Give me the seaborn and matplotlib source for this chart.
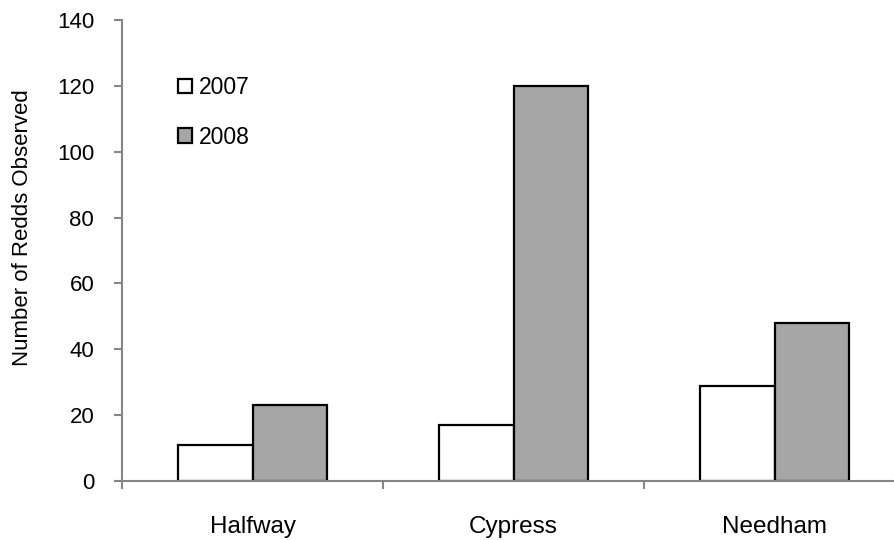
import pandas as pd
import matplotlib
matplotlib.use("Agg")
import matplotlib.pyplot as plt
import seaborn as sns

sites = ["Halfway", "Cypress", "Needham"]
years = ["2007", "2008"]
redds_2007 = [11, 17, 29]
redds_2008 = [23, 120, 48]

df = pd.DataFrame({
    "Site": sites * 2,
    "Year": [years[0]] * 3 + [years[1]] * 3,
    "Redds": redds_2007 + redds_2008,
})

sns.set_style("white")
plt.rcParams['font.family'] = ['Liberation Sans', 'DejaVu Sans']
plt.rcParams['text.color'] = 'black'
plt.rcParams['xtick.color'] = 'black'
plt.rcParams['ytick.color'] = 'black'
plt.rcParams['axes.labelcolor'] = 'black'

fig = plt.figure(figsize=(8.94, 5.40), dpi=100)
ax = fig.add_axes([122 / 894, 1 - 481 / 540, 783 / 894, 461 / 540])

sns.barplot(data=df, x="Site", y="Redds", hue="Year", order=sites, hue_order=years,
            palette={"2007": "white", "2008": "#a6a6a6"}, width=0.57,
            edgecolor="black", linewidth=1.6, ax=ax)

ax.set_xlim(-0.5, 2.5)
ax.set_ylim(0, 140)
ax.set_yticks(range(0, 141, 20))
ax.set_ylabel("Number of Redds Observed", fontsize=16, va="center")
ax.yaxis.set_label_coords(-0.1277, 0.549)
ax.set_xlabel("")

for s in ["top", "right"]:
    ax.spines[s].set_visible(False)
for s in ["left", "bottom"]:
    ax.spines[s].set_color("#868686")
    ax.spines[s].set_linewidth(1.5)

ax.set_xticks([-0.5, 0.5, 1.5, 2.5], minor=True)
ax.tick_params(axis="x", which="major", length=0, pad=25, labelsize=17.5)
ax.tick_params(axis="x", which="minor", length=6, width=1.5, color="#868686", direction="out", bottom=True)
ax.tick_params(axis="y", length=6, width=1.5, color="#868686", labelcolor="black",
               direction="out", left=True, pad=14, labelsize=16)

ax.legend(loc="upper left", bbox_to_anchor=((178 - 122) / 783, 0.878), frameon=False, fontsize=16.5,
          borderpad=0, borderaxespad=0, handlelength=0.6, handleheight=0.6, handletextpad=0.3,
          labelspacing=1.16, title=None)

fig.savefig("out.png", dpi=100)
